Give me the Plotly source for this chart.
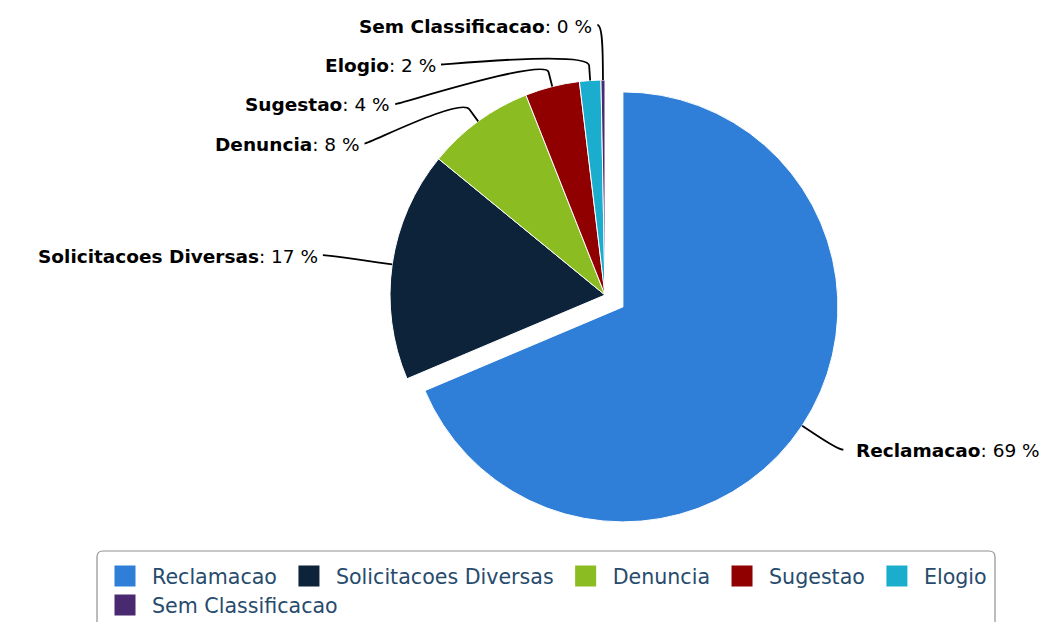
import math
import plotly.graph_objects as go

# ---- data ----
categories = ["Reclamacao", "Solicitacoes Diversas", "Denuncia", "Sugestao", "Elogio", "Sem Classificacao"]
values = [68.7, 17.3, 8.1, 4.1, 1.6, 0.3]
colors = ["#2f7ed8", "#0d233a", "#8bbc21", "#910000", "#1aadce", "#492970"]
pulls = [0.1, 0, 0, 0, 0, 0]
legend_rows = [1, 1, 1, 1, 1, 2]

# ---- layout constants (pixels) ----
W, H = 1044, 622
ML, MR, MT, MB = 60, 24, 0, 0
PW, PH = W - ML - MR, H - MT - MB
CX, CY = 605.0, 295.0      # pie centre
R = 215.0                  # pie radius
RL = 280.0                 # label circle radius
BREAK = 15.0               # connector break outside pie
SPACING = 39.5             # min vertical distance between labels
YMIN, YMAX = 25.0, 530.0
LABEL_FONT = dict(family="DejaVu Sans", size=18.5, color="#000000")
LEG_FONT = dict(family="DejaVu Sans", size=20.6, color="#274b6d")
LEG_BOX = (97, 551, 995, 640)
LEG_ROW_TOP = {1: 556, 2: 585}


def px(x):
    return (x - ML) / PW


def py(y):
    return 1 - (y - MT) / PH


maxpull = max(pulls)
side_px = 2 * R * (1 + maxpull)
dom_x = [px(CX - side_px / 2), px(CX + side_px / 2)]
dom_y = [py(CY + side_px / 2), py(CY - side_px / 2)]

fig = go.Figure(go.Pie(
    labels=categories, values=values, sort=False, direction="clockwise", rotation=0,
    pull=pulls, textinfo="none", hoverinfo="label+percent", showlegend=False,
    marker=dict(colors=colors, line=dict(color="#ffffff", width=1)),
    domain=dict(x=dom_x, y=dom_y),
))

# legend entries (one per category, coloured like the slices)
for name, col, row in zip(categories, colors, legend_rows):
    fig.add_trace(go.Scatter(
        x=[None], y=[None], mode="markers", name=name, hoverinfo="skip",
        marker=dict(symbol="square", size=16, color=col, line=dict(color=col, width=5)),
        legend="legend" if row == 1 else f"legend{row}",
    ))

# ---- label geometry derived from data ----
total = sum(values)
items = []
cum = 0.0
for name, v, p in zip(categories, values, pulls):
    frac = v / total
    mid = (cum + frac / 2) * 2 * math.pi
    cum += frac
    ux, uy = math.sin(mid), -math.cos(mid)
    off = p * R
    ccx, ccy = CX + off * ux, CY + off * uy
    items.append(dict(
        name=name, pct=round(frac * 100), ux=ux, uy=uy,
        base=(ccx + R * ux, ccy + R * uy),
        brk=(ccx + (R + BREAK) * ux, ccy + (R + BREAK) * uy),
        nat=CY + RL * uy, right=ux > 0,
    ))


def distribute(group):
    group = sorted(group, key=lambda d: d["nat"])
    clusters = [[d] for d in group]

    def place(c):
        n = len(c)
        top = sum(d["nat"] for d in c) / n - (n - 1) * SPACING / 2
        top = max(YMIN, min(top, YMAX - (n - 1) * SPACING))
        return top

    changed = True
    while changed:
        changed = False
        for k in range(len(clusters) - 1):
            a, b = clusters[k], clusters[k + 1]
            if place(a) + (len(a) - 1) * SPACING + SPACING > place(b):
                clusters[k] = a + b
                del clusters[k + 1]
                changed = True
                break
    for c in clusters:
        top = place(c)
        for j, d in enumerate(c):
            d["y"] = top + j * SPACING
    for j, d in enumerate(group):
        d["xy"] = d["nat"] if j in (0, len(group) - 1) else d["y"]


distribute([d for d in items if d["right"]])
distribute([d for d in items if not d["right"]])

shapes = []
annotations = []
for d in items:
    y = d["y"]
    dy = max(-RL, min(RL, d["xy"] - CY))
    xr = math.sqrt(max(RL * RL - dy * dy, 0))
    x = CX + xr if d["right"] else CX - xr
    bx, by = d["brk"]
    ex, ey = d["base"]
    c2x, c2y = 2 * bx - ex, 2 * by - ey
    sx = x + (5 if d["right"] else -5)
    path = (f"M {px(sx)},{py(y)} C {px(x)},{py(y)} {px(c2x)},{py(c2y)} {px(bx)},{py(by)} "
            f"L {px(ex)},{py(ey)}")
    shapes.append(dict(type="path", path=path, xref="paper", yref="paper",
                       line=dict(color="#000000", width=1.8)))
    tx = x + 16 if d["right"] else x - 8
    annotations.append(dict(
        x=px(tx), y=py(y + 1), xref="paper", yref="paper", showarrow=False,
        xanchor="left" if d["right"] else "right", yanchor="middle",
        text=f"<b>{d['name']}</b>: {d['pct']} %", font=LABEL_FONT,
    ))

# rounded legend frame
x0, y0, x1, y1 = LEG_BOX
rr = 6
frame = (f"M {px(x0 + rr)},{py(y0)} L {px(x1 - rr)},{py(y0)} Q {px(x1)},{py(y0)} {px(x1)},{py(y0 + rr)} "
         f"L {px(x1)},{py(y1)} L {px(x0)},{py(y1)} L {px(x0)},{py(y0 + rr)} "
         f"Q {px(x0)},{py(y0)} {px(x0 + rr)},{py(y0)} Z")
shapes.append(dict(type="path", path=frame, xref="paper", yref="paper",
                   line=dict(color="#909090", width=1.2), fillcolor="rgba(0,0,0,0)"))

legend_common = dict(orientation="h", xanchor="left", yanchor="top", font=LEG_FONT,
                     bgcolor="rgba(0,0,0,0)", borderwidth=0, itemwidth=44,
                     traceorder="normal", itemclick=False, itemdoubleclick=False)

fig.update_layout(
    width=W, height=H, margin=dict(l=ML, r=MR, t=MT, b=MB, autoexpand=False),
    paper_bgcolor="#ffffff", plot_bgcolor="#ffffff",
    shapes=shapes, annotations=annotations,
    showlegend=True,
    legend=dict(x=px(x0 + 1), y=py(LEG_ROW_TOP[1]), **legend_common),
    legend2=dict(x=px(x0 + 1), y=py(LEG_ROW_TOP[2]), **legend_common),
    xaxis=dict(visible=False), yaxis=dict(visible=False),
)

fig.write_html("out.html", config={"displayModeBar": False},
               post_script="document.body.style.margin='0';document.body.style.overflow='hidden';")
